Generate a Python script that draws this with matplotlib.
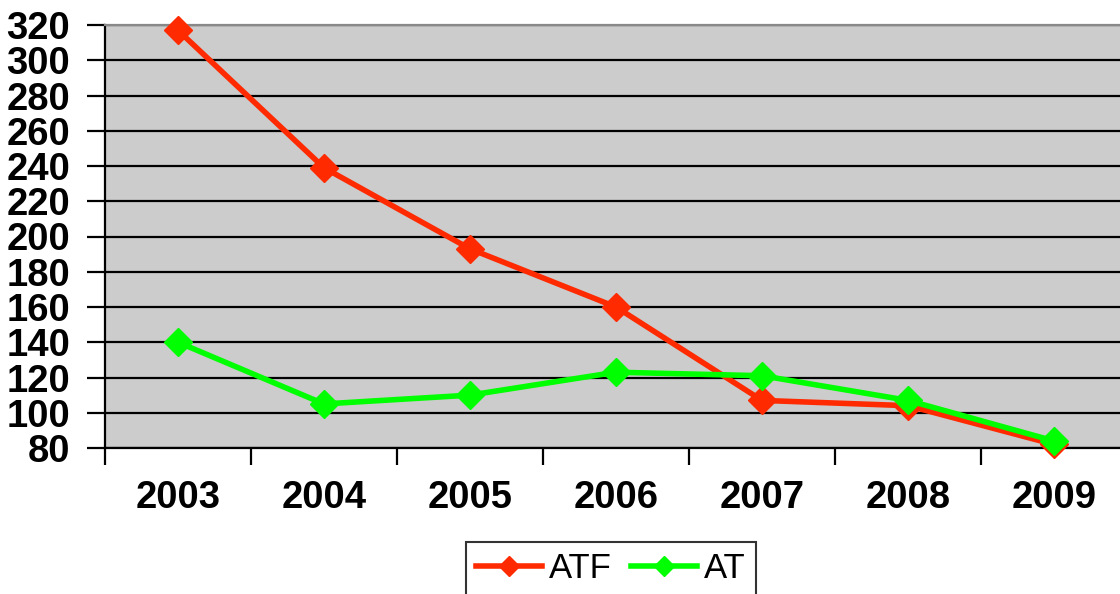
import matplotlib
matplotlib.use("Agg")
import matplotlib.pyplot as plt
from matplotlib.ticker import FixedLocator, MultipleLocator

matplotlib.rcParams["font.family"] = ["Liberation Sans", "DejaVu Sans"]

years = ["2003", "2004", "2005", "2006", "2007", "2008", "2009"]
atf = [317, 239, 193, 160, 107, 104, 82]
at = [140, 105, 110, 123, 121, 107, 84]


def plot_chart():
    fig = plt.figure(figsize=(11.2, 5.94), dpi=100)
    ax = fig.add_axes([105 / 1120, 146 / 594, 1022 / 1120, 423 / 594])
    ax.set_facecolor("#CCCCCC")

    x = list(range(len(years)))
    ax.plot(x, atf, color="#FF2A00", lw=4, marker="D", markersize=14.5,
            label="ATF", zorder=3, clip_on=False)
    ax.plot(x, at, color="#00FF00", lw=4, marker="D", markersize=14.5,
            label="AT", zorder=4, clip_on=False)

    ax.set_xlim(-0.5, len(years) - 0.5)
    ax.set_ylim(80, 320)
    ax.yaxis.set_major_locator(MultipleLocator(20))
    ax.grid(True, axis="y", color="black", lw=1.6, zorder=1)
    ax.set_axisbelow(True)

    ax.xaxis.set_major_locator(FixedLocator([i - 0.5 for i in range(len(years) + 1)]))
    ax.xaxis.set_minor_locator(FixedLocator(x))
    ax.set_xticklabels([])
    ax.set_xticklabels(years, minor=True)
    ax.tick_params(axis="x", which="major", length=12, width=1.6, direction="out")
    ax.tick_params(axis="x", which="minor", length=0, pad=23, labelsize=27.5)
    ax.tick_params(axis="y", length=13, width=1.6, direction="out", pad=12,
                   labelsize=27.5)
    for lab in ax.get_xticklabels(minor=True) + ax.get_yticklabels():
        lab.set_fontweight("bold")

    ax.spines["left"].set_linewidth(1.6)
    ax.spines["bottom"].set_linewidth(1.6)
    ax.spines["top"].set_color("#888888")
    ax.spines["top"].set_linewidth(1.6)
    ax.spines["right"].set_visible(False)

    leg = fig.legend(loc="upper center", bbox_to_anchor=(611 / 1120, 52 / 594),
                     ncol=2, fontsize=25, frameon=True, fancybox=False,
                     edgecolor="black", markerscale=0.72, handlelength=1.9,
                     columnspacing=0.55, handletextpad=0.2, borderpad=0.3,
                     borderaxespad=0)
    leg.get_frame().set_linewidth(1.5)

    fig.savefig("out.png", dpi=100)


if __name__ == "__main__":
    plot_chart()
